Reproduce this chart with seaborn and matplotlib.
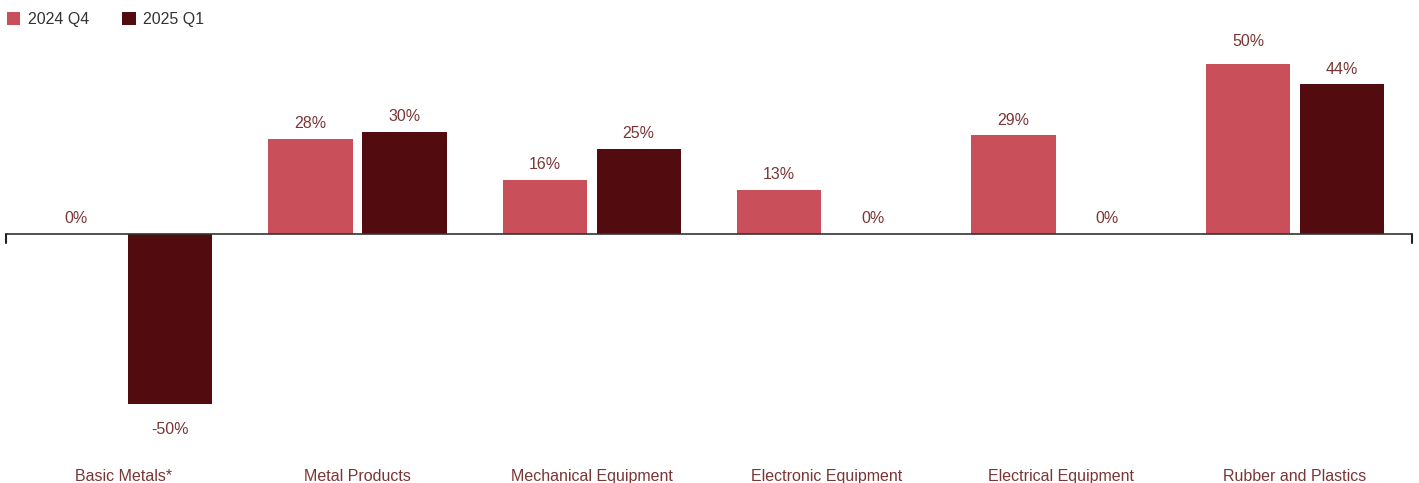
import matplotlib
matplotlib.use("Agg")
import matplotlib.pyplot as plt
import seaborn as sns
import pandas as pd
from matplotlib.patches import Patch

categories = ["Basic Metals*", "Metal Products", "Mechanical Equipment",
              "Electronic Equipment", "Electrical Equipment", "Rubber and Plastics"]
series_names = ["2024 Q4", "2025 Q1"]
q4_2024 = [0, 28, 16, 13, 29, 50]
q1_2025 = [-50, 30, 25, 0, 0, 44]
colors = ["#C94F5A", "#520B0E"]

rows = []
for c, a, b in zip(categories, q4_2024, q1_2025):
    rows.append({"category": c, "series": series_names[0], "value": a})
    rows.append({"category": c, "series": series_names[1], "value": b})
df = pd.DataFrame(rows)

sns.set_theme(style="white")
plt.rcParams["font.family"] = ["Liberation Sans", "DejaVu Sans"]

W, H = 1419, 483
fig = plt.figure(figsize=(W / 100, H / 100), dpi=100)
top_px, bot_px = 40, 440
left_px, right_px = 6, 1412
ax = fig.add_axes([left_px / W, (H - bot_px) / H, (right_px - left_px) / W, (bot_px - top_px) / H])

sns.barplot(data=df, x="category", y="value", hue="series", order=categories,
            hue_order=series_names, palette=colors, width=0.8, gap=0.1,
            saturation=1, ax=ax, legend=False, errorbar=None, linewidth=0)

scale = 3.4
ax.set_ylim(-(bot_px - 234) / scale, (234 - top_px) / scale)
ax.set_xlim(-0.5, len(categories) - 0.5)

label_color = "#7A3535"
fs = 11.5
vmax = max(q4_2024 + q1_2025)
for cont, vals in zip(ax.containers, [q4_2024, q1_2025]):
    for bar, v in zip(cont, vals):
        x = bar.get_x() + bar.get_width() / 2
        if v < 0:
            ax.annotate(f"{v:.0f}%", (x, v), xytext=(0, -13), textcoords="offset points",
                        ha="center", va="top", fontsize=fs, color=label_color)
        else:
            pad = 11 if v == vmax else 5.5
            ax.annotate(f"{v:.0f}%", (x, v), xytext=(0, pad), textcoords="offset points",
                        ha="center", va="bottom", fontsize=fs, color=label_color)

# baseline with end ticks
ax.axhline(0, color="#333333", lw=1.2, zorder=3)
ax.plot([-0.5, -0.5], [0, -2.7], color="#222222", lw=1.5, clip_on=False, zorder=3)
ax.plot([len(categories) - 0.5] * 2, [0, -2.7], color="#222222", lw=1.5, clip_on=False, zorder=3)

for s in ax.spines.values():
    s.set_visible(False)
ax.set_yticks([])
ax.set_xlabel("")
ax.set_ylabel("")
ax.tick_params(axis="x", length=0, pad=21, labelsize=fs, labelcolor=label_color)

handles = [Patch(facecolor=c, edgecolor="none") for c in colors]
fig.legend(handles, series_names, loc="upper left", bbox_to_anchor=(-0.003, 0.998),
           ncol=2, frameon=False, handlelength=0.85, handleheight=0.85, handletextpad=0.45,
           columnspacing=2.1, fontsize=fs, labelcolor="#333333", borderaxespad=0.3)

fig.savefig("out.png", dpi=100)
